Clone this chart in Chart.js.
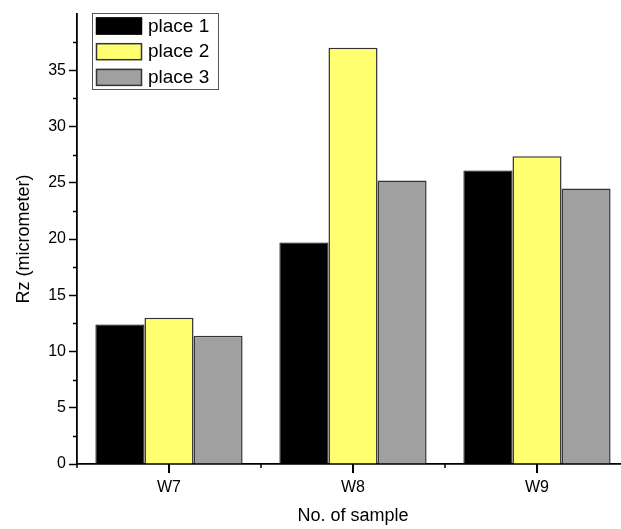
<!DOCTYPE html>
<html>
<head>
<meta charset="utf-8">
<script src="https://cdn.jsdelivr.net/npm/chart.js@4/dist/chart.umd.min.js"></script>
<style>
  html, body { margin: 0; padding: 0; background: #fff; overflow: hidden; }
  #wrap { width: 629px; height: 529px; }
</style>
</head>
<body>
<div id="wrap"><canvas id="rzChart" width="629" height="529"></canvas></div>
<script>
// data
var samples = ['W7', 'W8', 'W9'];
var place1 = [12.4, 19.7, 26.1];
var place2 = [13.0, 37.0, 27.35];
var place3 = [11.4, 25.2, 24.5];
var seriesNames = ['place 1', 'place 2', 'place 3'];
var yTicks = [0, 5, 10, 15, 20, 25, 30, 35];

var FONT = 'Arial, "Liberation Sans", sans-serif';

// x ticks (major at categories, minor at boundaries) + y minor ticks every 2.5
var axisTicks = {
    id: 'axisTicks',
    afterDraw: function(chart) {
        var c = chart.ctx, x = chart.scales.x, y = chart.scales.y;
        var area = chart.chartArea;
        c.save();
        c.strokeStyle = '#000';
        c.lineWidth = 1.5;
        c.beginPath();
        for (var v = 2.5; v < 40; v += 5) {
            var py = Math.round(y.getPixelForValue(v)) + 0.5;
            c.moveTo(area.left - 4, py);
            c.lineTo(area.left, py);
        }
        for (var i = 0; i <= samples.length; i++) {
            var px = x.getPixelForValue(i - 0.5);
            c.moveTo(px, area.bottom);
            c.lineTo(px, area.bottom + 4);
        }
        c.stroke();
        c.beginPath();
        c.lineWidth = 2;
        for (var j = 0; j < samples.length; j++) {
            var mx = Math.round(x.getPixelForValue(j));
            c.moveTo(mx, area.bottom);
            c.lineTo(mx, area.bottom + 9);
        }
        c.stroke();
        c.restore();
    }
};

// legend box drawn inside the plot, like the original
var boxLegend = {
    id: 'boxLegend',
    afterDraw: function(chart) {
        var c = chart.ctx;
        var bx = 92.5, by = 13.5, bw = 126, bh = 76;
        c.save();
        c.fillStyle = '#fff';
        c.fillRect(bx, by, bw, bh);
        c.strokeStyle = '#555';
        c.lineWidth = 1;
        c.strokeRect(bx, by, bw, bh);
        c.font = '19px ' + FONT;
        c.textBaseline = 'middle';
        chart.data.datasets.forEach(function(ds, i) {
            var sy = 17.5 + i * 25.7;
            c.fillStyle = ds.backgroundColor;
            c.fillRect(96, sy, 46, 17);
            c.strokeStyle = ds.borderColor;
            c.lineWidth = 1.5;
            c.strokeRect(96.5, sy + 0.5, 45, 16);
            c.fillStyle = '#000';
            c.fillText(ds.label, 148, sy + 9);
        });
        c.restore();
    }
};

var ctx = document.getElementById('rzChart').getContext('2d');
var rzChart = new Chart(ctx, {
    type: 'bar',
    data: {
        labels: samples,
        datasets: [{
            label: seriesNames[0],
            data: place1,
            backgroundColor: '#000000',
            borderColor: '#000000',
            borderWidth: 1
        }, {
            label: seriesNames[1],
            data: place2,
            backgroundColor: '#ffff70',
            borderColor: '#333333',
            borderWidth: 1.5
        }, {
            label: seriesNames[2],
            data: place3,
            backgroundColor: '#a0a0a0',
            borderColor: '#333333',
            borderWidth: 1.5
        }]
    },
    options: {
        responsive: false,
        animation: false,
        devicePixelRatio: 1,
        layout: { padding: { top: 14, right: 0, left: 0, bottom: 0 } },
        categoryPercentage: 0.8,
        barPercentage: 1.0,
        plugins: {
            legend: { display: false },
            tooltip: { enabled: false }
        },
        scales: {
            x: {
                grid: {
                    offset: false,
                    drawOnChartArea: false,
                    drawTicks: true,
                    tickLength: 9,
                    tickColor: 'rgba(0,0,0,0)'
                },
                border: { color: '#000', width: 1.8 },
                ticks: {
                    color: '#000',
                    padding: 5,
                    font: { family: FONT, size: 16 }
                },
                title: {
                    display: true,
                    text: 'No. of sample',
                    color: '#000',
                    font: { family: FONT, size: 18 },
                    padding: { top: 0, bottom: 2 }
                },
                afterFit: function(scale) { scale.height = 65; }
            },
            y: {
                min: 0,
                max: 40,
                grid: {
                    drawOnChartArea: false,
                    drawTicks: true,
                    tickLength: 8,
                    tickWidth: 1.5,
                    tickColor: function(c) {
                        return c.tick && c.tick.value === 40 ? 'rgba(0,0,0,0)' : '#000';
                    }
                },
                border: { color: '#000', width: 1.8 },
                afterBuildTicks: function(scale) {
                    scale.ticks = yTicks.concat([40]).map(function(v) { return { value: v }; });
                },
                ticks: {
                    color: '#000',
                    padding: 3,
                    font: { family: FONT, size: 16 },
                    callback: function(v) { return yTicks.indexOf(v) >= 0 ? v : ''; }
                },
                title: {
                    display: true,
                    text: 'Rz (micrometer)',
                    color: '#000',
                    font: { family: FONT, size: 18 },
                    padding: { top: 13, bottom: 0 }
                },
                afterFit: function(scale) { scale.width = 77; }
            }
        }
    },
    plugins: [axisTicks, boxLegend]
});
</script>
</body>
</html>
